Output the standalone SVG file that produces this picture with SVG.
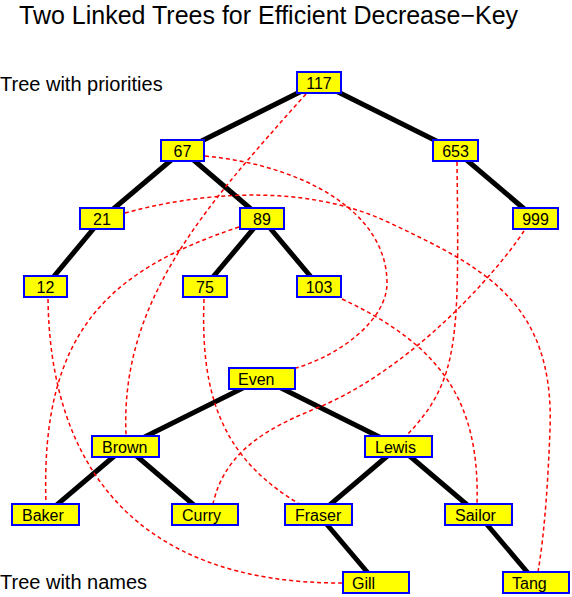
<svg xmlns="http://www.w3.org/2000/svg" width="572" height="597" viewBox="0 0 572 597">
<style>
.edge{stroke:#000;stroke-width:5;fill:none}
.link{stroke:#ff0000;stroke-width:1.5;fill:none;stroke-dasharray:4,3}
.box{fill:#ffff00;stroke:#0000ff;stroke-width:2}
.num{font-family:"Liberation Sans",Arial,sans-serif;font-size:16px;text-anchor:middle;fill:#000}
.name{font-family:"Liberation Sans",Arial,sans-serif;font-size:16px;fill:#000}
.lbl{font-family:"Liberation Sans",Arial,sans-serif;font-size:20px;fill:#000}
.title{font-family:"Liberation Sans",Arial,sans-serif;font-size:25px;fill:#000}
</style>
<rect width="572" height="597" fill="#fff"/>
<text class="title" x="19" y="24">Two Linked Trees for Efficient Decrease−Key</text>
<text class="lbl" x="0" y="91">Tree with priorities</text>
<text class="lbl" x="0" y="589">Tree with names</text>
<g id="connectors">
<g id="tree-edges">
<line class="edge" x1="319" y1="82.5" x2="182.5" y2="150.5"/>
<line class="edge" x1="319" y1="82.5" x2="455.5" y2="150.5"/>
<line class="edge" x1="182.5" y1="150.5" x2="102" y2="218.5"/>
<line class="edge" x1="182.5" y1="150.5" x2="262" y2="218.5"/>
<line class="edge" x1="455.5" y1="150.5" x2="535.5" y2="218.5"/>
<line class="edge" x1="102" y1="218.5" x2="45.5" y2="286.5"/>
<line class="edge" x1="262" y1="218.5" x2="205" y2="286.5"/>
<line class="edge" x1="262" y1="218.5" x2="319" y2="286.5"/>
<line class="edge" x1="262" y1="378.5" x2="125.5" y2="446.5"/>
<line class="edge" x1="262" y1="378.5" x2="398.5" y2="446.5"/>
<line class="edge" x1="125.5" y1="446.5" x2="45.5" y2="514.5"/>
<line class="edge" x1="125.5" y1="446.5" x2="205" y2="514.5"/>
<line class="edge" x1="398.5" y1="446.5" x2="318.5" y2="514.5"/>
<line class="edge" x1="398.5" y1="446.5" x2="478.5" y2="514.5"/>
<line class="edge" x1="318.5" y1="514.5" x2="376" y2="582.5"/>
<line class="edge" x1="478.5" y1="514.5" x2="536" y2="582.5"/>
</g>
<g id="links">
<path class="link" d="M306,94 C206,206 120,300 126,435"/>
<path class="link" d="M205,156 C300,165 387,210 387,283 C387,320 340,355 296,368"/>
<path class="link" d="M125,213 C190,195 300,180 390,223 C480,266 555,300 550,430 C548,480 545,530 538,572"/>
<path class="link" d="M239,227 C110,270 40,330 46,504"/>
<path class="link" d="M48,299 C50,465 135,584 343,583"/>
<path class="link" d="M204,299 C200,400 225,460 301,505"/>
<path class="link" d="M342,299 C440,345 480,400 477,504"/>
<path class="link" d="M457,162 C459,340 460,380 406,436"/>
<path class="link" d="M524,231 C495,275 410,370 317,408 C270,427 225,450 213,504"/>
</g>
</g>
<g id="n117"><rect class="box" x="297" y="72" width="44" height="21"/><text class="num" x="319" y="89">117</text></g>
<g id="n67"><rect class="box" x="161" y="140" width="43" height="21"/><text class="num" x="182.5" y="157">67</text></g>
<g id="n653"><rect class="box" x="433" y="140" width="45" height="21"/><text class="num" x="455.5" y="157">653</text></g>
<g id="n21"><rect class="box" x="80" y="208" width="44" height="21"/><text class="num" x="102" y="225">21</text></g>
<g id="n89"><rect class="box" x="240" y="208" width="44" height="21"/><text class="num" x="262" y="225">89</text></g>
<g id="n999"><rect class="box" x="513" y="208" width="45" height="21"/><text class="num" x="535.5" y="225">999</text></g>
<g id="n12"><rect class="box" x="24" y="276" width="43" height="21"/><text class="num" x="45.5" y="293">12</text></g>
<g id="n75"><rect class="box" x="183" y="276" width="44" height="21"/><text class="num" x="205" y="293">75</text></g>
<g id="n103"><rect class="box" x="297" y="276" width="44" height="21"/><text class="num" x="319" y="293">103</text></g>
<g id="even"><rect class="box" x="229" y="368" width="66" height="21"/><text class="name" x="238" y="385">Even</text></g>
<g id="brown"><rect class="box" x="92" y="436" width="67" height="21"/><text class="name" x="102" y="453">Brown</text></g>
<g id="lewis"><rect class="box" x="365" y="436" width="67" height="21"/><text class="name" x="375" y="453">Lewis</text></g>
<g id="baker"><rect class="box" x="12" y="504" width="67" height="21"/><text class="name" x="22" y="521">Baker</text></g>
<g id="curry"><rect class="box" x="172" y="504" width="66" height="21"/><text class="name" x="182" y="521">Curry</text></g>
<g id="fraser"><rect class="box" x="285" y="504" width="67" height="21"/><text class="name" x="295" y="521">Fraser</text></g>
<g id="sailor"><rect class="box" x="445" y="504" width="67" height="21"/><text class="name" x="455" y="521">Sailor</text></g>
<g id="gill"><rect class="box" x="343" y="572" width="66" height="21"/><text class="name" x="352" y="589">Gill</text></g>
<g id="tang"><rect class="box" x="503" y="572" width="66" height="21"/><text class="name" x="512" y="589">Tang</text></g>
</svg>
